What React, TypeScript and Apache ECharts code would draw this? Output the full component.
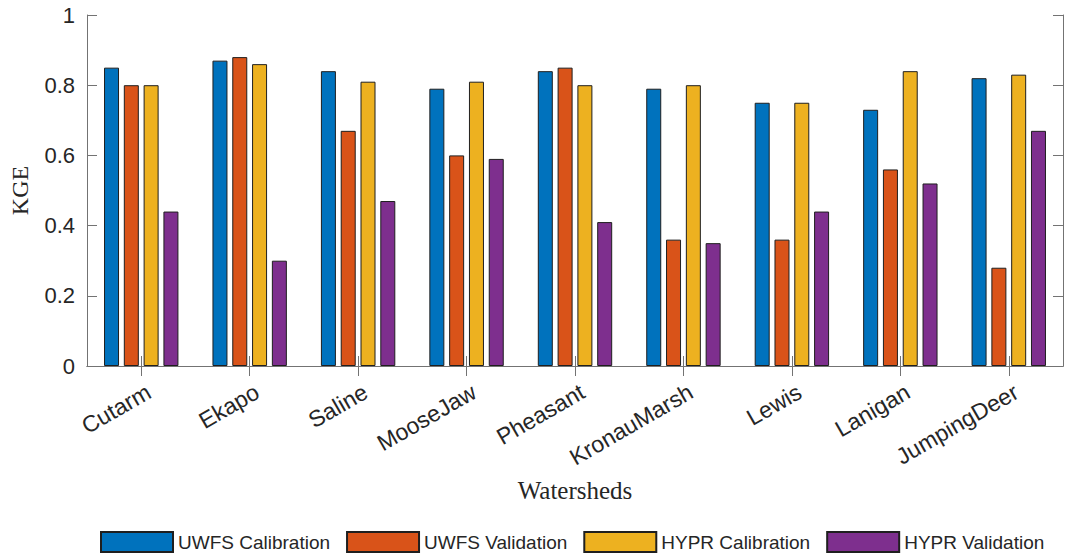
import React, { useEffect, useRef } from "react";
import * as echarts from "echarts";

// Watershed names along the category axis
const watersheds = [
  "Cutarm",
  "Ekapo",
  "Saline",
  "MooseJaw",
  "Pheasant",
  "KronauMarsh",
  "Lewis",
  "Lanigan",
  "JumpingDeer",
];

// KGE scores per watershed
const uwfsCalibration = [0.85, 0.87, 0.84, 0.79, 0.84, 0.79, 0.75, 0.73, 0.82];
const uwfsValidation = [0.8, 0.88, 0.67, 0.6, 0.85, 0.36, 0.36, 0.56, 0.28];
const hyprCalibration = [0.8, 0.86, 0.81, 0.81, 0.8, 0.8, 0.75, 0.84, 0.83];
const hyprValidation = [0.44, 0.3, 0.47, 0.59, 0.41, 0.35, 0.44, 0.52, 0.67];

const seriesNames = [
  "UWFS Calibration",
  "UWFS Validation",
  "HYPR Calibration",
  "HYPR Validation",
];
const seriesColors = ["#0072BD", "#D95319", "#EDB120", "#7E2F8E"];
const seriesValues = [uwfsCalibration, uwfsValidation, hyprCalibration, hyprValidation];

const AXIS_GRAY = "#737373";
const TEXT_DARK = "#262626";
const SANS = "'Liberation Sans', Arial, Helvetica, sans-serif";
const SERIF = "'Liberation Serif', 'Times New Roman', serif";

export default function App() {
  const ref = useRef<HTMLDivElement>(null);

  useEffect(() => {
    if (!ref.current) return;
    const chart = echarts.init(ref.current, undefined, { renderer: "svg" });

    const axisLine = { show: true, lineStyle: { color: AXIS_GRAY, width: 1 } };
    const innerTick = {
      show: true,
      inside: true,
      length: 10,
      lineStyle: { color: AXIS_GRAY, width: 1 },
    };

    chart.setOption({
      animation: false,
      backgroundColor: "#ffffff",
      grid: { left: 87, right: 2, top: 15, bottom: 189, containLabel: false },
      legend: {
        left: 100,
        top: 531,
        padding: 0,
        itemWidth: 72,
        itemHeight: 20,
        itemGap: 16,
        icon: "rect",
        textStyle: { fontSize: 19, fontFamily: SANS, color: TEXT_DARK },
        data: seriesNames,
      },
      xAxis: [
        {
          type: "category",
          position: "bottom",
          data: watersheds,
          axisLine,
          axisTick: { ...innerTick, alignWithLabel: true, interval: 0 },
          axisLabel: {
            interval: 0,
            rotate: 30,
            verticalAlign: "top",
            lineHeight: 30,
            margin: 11,
            fontSize: 23,
            fontFamily: SANS,
            color: TEXT_DARK,
          },
          name: "Watersheds",
          nameLocation: "middle",
          nameGap: 117,
          nameTextStyle: {
            fontSize: 25,
            fontFamily: SERIF,
            color: TEXT_DARK,
            verticalAlign: "middle",
          },
        },
        {
          type: "category",
          position: "top",
          data: watersheds,
          axisLine,
          axisTick: { ...innerTick, alignWithLabel: true, interval: 0 },
          axisLabel: { show: false },
        },
      ],
      yAxis: [
        {
          type: "value",
          position: "left",
          min: 0,
          max: 1,
          interval: 0.2,
          axisLine,
          axisTick: innerTick,
          splitLine: { show: false },
          axisLabel: {
            margin: 12,
            fontSize: 22,
            fontFamily: SANS,
            color: TEXT_DARK,
          },
          name: "KGE",
          nameLocation: "middle",
          nameGap: 67,
          nameRotate: 90,
          nameTextStyle: {
            fontSize: 24,
            fontFamily: SERIF,
            color: TEXT_DARK,
            verticalAlign: "middle",
          },
        },
        {
          type: "value",
          position: "right",
          min: 0,
          max: 1,
          interval: 0.2,
          axisLine,
          axisTick: innerTick,
          splitLine: { show: false },
          axisLabel: { show: false },
        },
      ],
      series: seriesNames.map((name, i) => ({
        name,
        type: "bar",
        xAxisIndex: 0,
        yAxisIndex: 0,
        data: seriesValues[i],
        barWidth: 15,
        barGap: "32%",
        itemStyle: {
          color: seriesColors[i],
          borderColor: "#1f1f1f",
          borderWidth: 1,
        },
        emphasis: { disabled: true },
      })),
    });

    return () => chart.dispose();
  }, []);

  return (
    <div
      ref={ref}
      style={{ position: "fixed", left: 0, top: 0, width: 1065, height: 555 }}
    />
  );
}
